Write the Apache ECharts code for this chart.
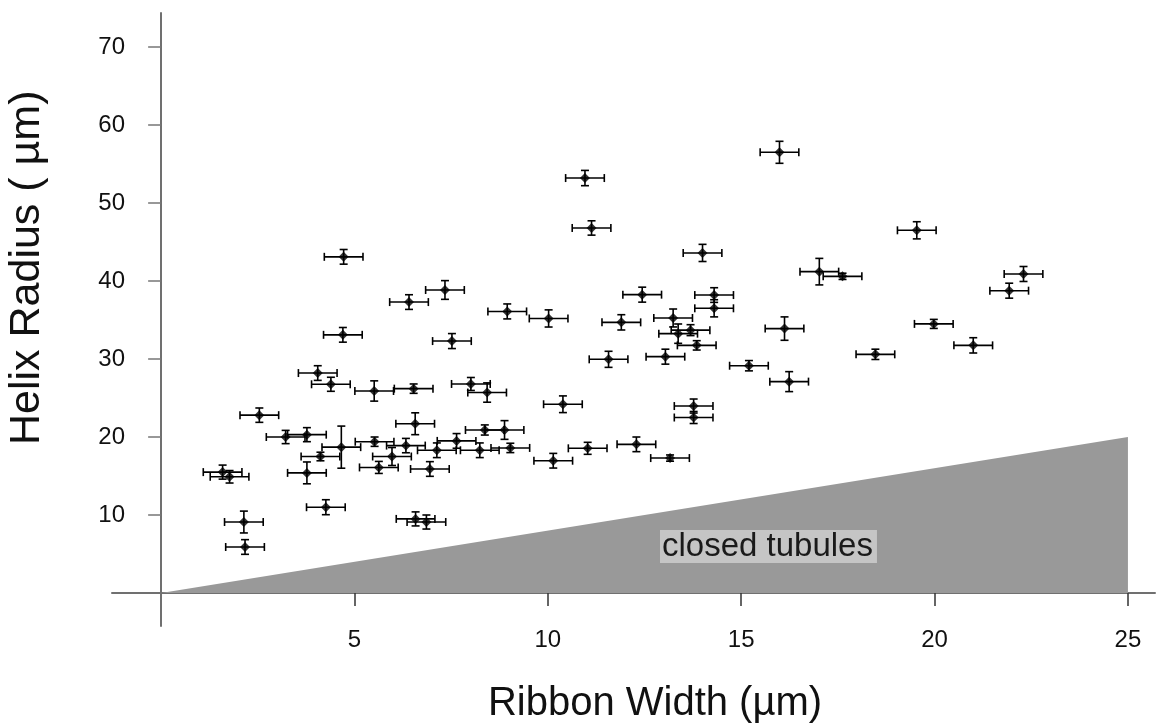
<!DOCTYPE html>
<html>
<head>
<meta charset="utf-8">
<script src="https://cdn.jsdelivr.net/npm/echarts@6/dist/echarts.min.js"></script>
<style>
  html, body { margin: 0; padding: 0; background: #fff; }
  #main { width: 1156px; height: 727px; }
</style>
</head>
<body>
<div id="main"></div>
<script>
// measured points: ribbon width (um), helix radius (um), radius error (um)
var ribbonWidth = [1.59, 1.77, 2.14, 2.17, 2.54, 3.22, 3.77, 3.77, 4.12, 4.66,
  4.26, 5.52, 5.63, 5.97, 6.33, 6.95, 7.13, 7.64, 6.58, 6.86,
  6.57, 8.37, 8.88, 8.24, 9.03, 11.03, 12.29, 13.16, 10.14, 10.39,
  13.77, 13.77,
  4.39, 5.51, 6.53, 8.01, 8.43, 4.05, 4.70, 7.52, 4.72, 7.34,
  6.41, 8.95, 10.02, 10.96, 11.13, 14.0, 12.44, 14.3, 14.3, 11.9,
  13.24, 13.69, 13.37, 13.85, 13.04, 11.57, 15.2,
  15.99, 19.54, 17.02, 17.62, 22.3, 21.93, 16.12, 19.98, 21.0, 18.47, 16.24];
var helixRadius = [15.5, 14.9, 9.1, 5.9, 22.8, 20.0, 20.3, 15.4, 17.5, 18.7,
  11.0, 19.4, 16.1, 17.5, 18.9, 15.9, 18.3, 19.5, 9.5, 9.1,
  21.7, 20.9, 20.9, 18.3, 18.6, 18.55, 19.06, 17.3, 16.96, 24.2,
  23.97, 22.5,
  26.76, 25.9, 26.2, 26.8, 25.7, 28.2, 33.1, 32.3, 43.1, 38.85,
  37.3, 36.1, 35.2, 53.2, 46.8, 43.6, 38.25, 38.2, 36.5, 34.7,
  35.26, 33.7, 33.25, 31.75, 30.3, 29.96, 29.14,
  56.5, 46.5, 41.2, 40.6, 40.9, 38.76, 33.9, 34.5, 31.75, 30.6, 27.1];
var radiusErr = [0.9, 0.8, 1.4, 0.94, 0.92, 0.85, 0.9, 1.4, 0.55, 2.7,
  0.96, 0.6, 0.77, 1.15, 0.92, 0.94, 0.94, 0.94, 0.9, 0.9,
  1.4, 0.65, 1.2, 0.94, 0.6, 0.77, 0.94, 0.4, 0.94, 1.07,
  0.9, 0.77,
  0.9, 1.3, 0.6, 0.83, 1.24, 0.94, 0.94, 0.96, 0.94, 1.2,
  0.94, 0.96, 1.1, 0.98, 0.92, 1.1, 0.96, 0.94, 1.1, 0.98,
  1.15, 0.7, 1.24, 0.6, 0.96, 1.03, 0.66,
  1.41, 1.1, 1.7, 0.4, 0.96, 0.96, 1.5, 0.58, 0.98, 0.66, 1.28];
var widthErr = 0.5;

// shaded "closed tubules" region boundary
var shadeX = [0, 25];
var shadeY = [0, 20];

var xTicks = [5, 10, 15, 20, 25];
var yTicks = [10, 20, 30, 40, 50, 60, 70];

var points = [], bars = [];
for (var i = 0; i < ribbonWidth.length; i++) {
  points.push([ribbonWidth[i], helixRadius[i]]);
  bars.push([ribbonWidth[i], helixRadius[i], widthErr, radiusErr[i]]);
}
var shade = shadeX.map(function (x, k) { return [x, shadeY[k]]; });

var FONT = 'Arial, "Liberation Sans", sans-serif';
var myChart = echarts.init(document.getElementById('main'));

var option = {
  backgroundColor: '#fff',
  animation: false,
  grid: { left: 112, right: 1, top: 13, bottom: 101 },
  xAxis: {
    type: 'value',
    min: -1.27, max: 25.7,
    splitLine: { show: false },
    axisLine: { onZero: true, lineStyle: { color: '#707070', width: 2 } },
    axisTick: { customValues: xTicks, length: 13, lineStyle: { color: '#333', width: 1.5 } },
    // labels sit at the grid edge, so the margin is measured from there
    axisLabel: { customValues: xTicks, margin: 2, fontSize: 24, color: '#111', fontFamily: FONT }
  },
  yAxis: {
    type: 'value',
    min: -4.23, max: 74.36,
    splitLine: { show: false },
    axisLine: { onZero: true, lineStyle: { color: '#707070', width: 2 } },
    axisTick: { customValues: yTicks, length: 13, lineStyle: { color: '#777', width: 1.5 } },
    axisLabel: { customValues: yTicks, margin: -13, fontSize: 24, color: '#111', fontFamily: FONT }
  },
  graphic: [
    {
      type: 'text', left: 660, top: 530, z: 100,
      style: {
        text: 'closed tubules', fontSize: 33, fontFamily: FONT, fill: '#1a1a1a',
        backgroundColor: 'rgba(215,215,215,0.7)', padding: [0, 4, 0, 2]
      }
    },
    {
      type: 'text', x: 655, y: 704, z: 100,
      style: {
        text: 'Ribbon Width (\u00b5m)', fontSize: 40, fontFamily: FONT, fill: '#111',
        textAlign: 'center', textVerticalAlign: 'middle'
      }
    },
    {
      type: 'text', x: 27, y: 445, rotation: Math.PI / 2, z: 100,
      style: {
        text: 'Helix Radius ( \u00b5m)', fontSize: 43, fontFamily: FONT, fill: '#111',
        textAlign: 'left', textVerticalAlign: 'middle'
      }
    }
  ],
  series: [
    {
      type: 'line',
      data: shade,
      symbol: 'none',
      lineStyle: { width: 0 },
      areaStyle: { color: '#999999', opacity: 1 },
      z: 1
    },
    {
      type: 'custom',
      data: bars,
      z: 3,
      renderItem: function (params, api) {
        var x = api.value(0), y = api.value(1), ex = api.value(2), ey = api.value(3);
        var l = api.coord([x - ex, y]), r = api.coord([x + ex, y]);
        var b = api.coord([x, y - ey]), t = api.coord([x, y + ey]);
        var c = 4;
        var st = { stroke: '#000', lineWidth: 1.6 };
        return {
          type: 'group',
          children: [
            { type: 'line', shape: { x1: l[0], y1: l[1], x2: r[0], y2: r[1] }, style: st },
            { type: 'line', shape: { x1: l[0], y1: l[1] - c, x2: l[0], y2: l[1] + c }, style: st },
            { type: 'line', shape: { x1: r[0], y1: r[1] - c, x2: r[0], y2: r[1] + c }, style: st },
            { type: 'line', shape: { x1: b[0], y1: b[1], x2: t[0], y2: t[1] }, style: st },
            { type: 'line', shape: { x1: b[0] - c, y1: b[1], x2: b[0] + c, y2: b[1] }, style: st },
            { type: 'line', shape: { x1: t[0] - c, y1: t[1], x2: t[0] + c, y2: t[1] }, style: st }
          ]
        };
      }
    },
    {
      type: 'scatter',
      data: points,
      symbol: 'diamond',
      symbolSize: 10,
      itemStyle: { color: '#000' },
      z: 4
    }
  ]
};
myChart.setOption(option);
</script>
</body>
</html>
